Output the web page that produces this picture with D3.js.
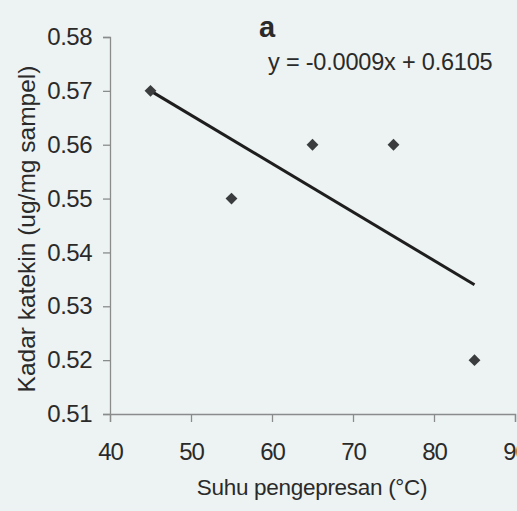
<!DOCTYPE html>
<html>
<head>
<meta charset="utf-8">
<script src="https://cdn.jsdelivr.net/npm/d3@7"></script>
<style>
html,body{margin:0;padding:0;background:#edf2f2;}
svg{display:block;font-family:"Liberation Sans",Arial,sans-serif;}
</style>
</head>
<body>
<svg id="chart" width="517" height="511"></svg>
<script>
const suhu = [45, 55, 65, 75, 85];
const katekin = [0.57, 0.55, 0.56, 0.56, 0.52];
const xTicks = [40, 50, 60, 70, 80, 90];
const yTicks = [0.51, 0.52, 0.53, 0.54, 0.55, 0.56, 0.57, 0.58];
const slope = -0.0009, intercept = 0.6105;
const titleText = "a";
const eqText = "y = -0.0009x + 0.6105";
const xLabel = "Suhu pengepresan (°C)";
const yLabel = "Kadar katekin (ug/mg sampel)";

const svg = d3.select("#chart");
svg.append("rect").attr("width",517).attr("height",511).attr("fill","#edf2f2");

const x = d3.scaleLinear().domain([40, 90]).range([110, 515]);
const y = d3.scaleLinear().domain([0.51, 0.58]).range([414, 37]);

const axisColor = "#8a8c8c";
const textColor = "#2a2a2a";

// x axis
const xa = svg.append("g").attr("transform", `translate(0,${y(0.51)})`)
  .call(d3.axisBottom(x).tickValues(xTicks).tickSize(8).tickPadding(21).tickFormat(d3.format("d")));
xa.select(".domain").attr("stroke", axisColor).attr("stroke-width", 1.3);
xa.selectAll(".tick line").attr("stroke", axisColor).attr("stroke-width", 1.3);
xa.selectAll("text").attr("font-size", 24).attr("fill", textColor).attr("font-family","Liberation Sans, Arial, sans-serif").attr("letter-spacing", -1);

// y axis
const ya = svg.append("g").attr("transform", `translate(${x(40)},0)`)
  .call(d3.axisLeft(y).tickValues(yTicks).tickSize(7).tickPadding(11).tickFormat(d3.format(".2f")));
ya.select(".domain").attr("stroke", axisColor).attr("stroke-width", 1.3);
ya.selectAll(".tick line").attr("stroke", axisColor).attr("stroke-width", 1.3);
ya.selectAll("text").attr("font-size", 24).attr("fill", textColor).attr("font-family","Liberation Sans, Arial, sans-serif").attr("letter-spacing", -0.5);

// trendline
const x0 = d3.min(suhu), x1 = d3.max(suhu);
svg.append("line")
  .attr("x1", x(x0)).attr("y1", y(slope * x0 + intercept))
  .attr("x2", x(x1)).attr("y2", y(slope * x1 + intercept))
  .attr("stroke", "#1e1e1e").attr("stroke-width", 3);

// points
svg.selectAll("path.pt").data(suhu.map((s,i)=>[s,katekin[i]])).enter()
  .append("path").attr("class","pt")
  .attr("d", d3.symbol().type(d3.symbolSquare).size(70))
  .attr("transform", d => `translate(${x(d[0])},${y(d[1])}) rotate(45)`)
  .attr("fill", "#3a3c3e");

// title
svg.append("text").attr("x", 267).attr("y", 37).attr("text-anchor","middle")
  .attr("font-size", 29).attr("font-weight","bold").attr("fill", textColor).text(titleText);

// equation
svg.append("text").attr("x", 268).attr("y", 70)
  .attr("font-size", 23.5).attr("fill", textColor).attr("letter-spacing", -0.2).text(eqText);

// x label
svg.append("text").attr("x", 312).attr("y", 495).attr("text-anchor","middle")
  .attr("font-size", 22.5).attr("fill", textColor).attr("letter-spacing", -0.3).text(xLabel);

// y label
svg.append("text").attr("transform", "translate(35,229) rotate(-90)").attr("text-anchor","middle")
  .attr("font-size", 24.5).attr("fill", textColor).text(yLabel);
</script>
</body>
</html>
